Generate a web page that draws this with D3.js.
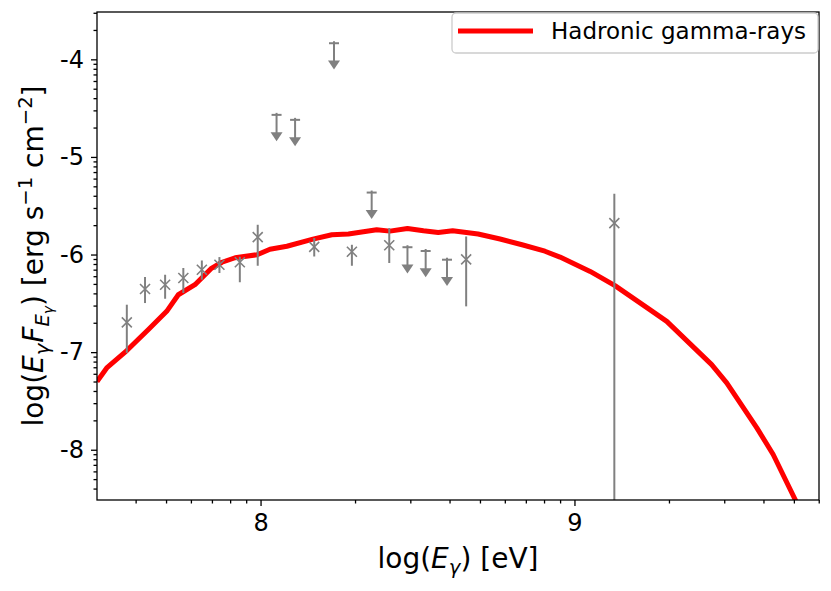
<!DOCTYPE html>
<html>
<head>
<meta charset="utf-8">
<script src="https://cdnjs.cloudflare.com/ajax/libs/d3/7.8.5/d3.min.js"></script>
<style>
  body { margin: 0; background: #fff; }
  svg { display: block; font-family: "DejaVu Sans", sans-serif; }
</style>
</head>
<body>
<svg id="sed" width="831" height="591"></svg>
<script>
// hadronic gamma-ray model (log E [eV], log E*F [erg s^-1 cm^-2])
const modelLogE = [7.479, 7.510, 7.574, 7.642, 7.701, 7.738, 7.791, 7.842, 7.877, 7.919,
  7.989, 8.030, 8.084, 8.167, 8.227, 8.280, 8.370, 8.412, 8.468, 8.519,
  8.566, 8.612, 8.693, 8.763, 8.833, 8.906, 8.954, 9.050, 9.129, 9.240,
  9.294, 9.437, 9.485, 9.581, 9.633, 9.703, 9.725];
const modelLogFlux = [-7.302, -7.162, -6.984, -6.770, -6.582, -6.412, -6.309, -6.145, -6.079, -6.033,
  -6.002, -5.946, -5.915, -5.842, -5.797, -5.790, -5.746, -5.760, -5.734, -5.757,
  -5.774, -5.757, -5.790, -5.841, -5.900, -5.966, -6.026, -6.173, -6.319, -6.565,
  -6.685, -7.128, -7.315, -7.776, -8.049, -8.510, -8.680];

// measured points with asymmetric errors
const pointLogE    = [7.574, 7.632, 7.696, 7.754, 7.813, 7.869, 7.934, 7.991, 8.171, 8.291, 8.410, 8.655, 9.127];
const pointLogFlux = [-6.695, -6.353, -6.309, -6.241, -6.156, -6.105, -6.079, -5.821, -5.922, -5.971, -5.905, -6.050, -5.678];
const pointHigh    = [-6.514, -6.230, -6.207, -6.138, -6.061, -6.026, -6.023, -5.695, -5.831, -5.900, -5.729, -5.815, -5.378];
const pointLow     = [-7.008, -6.497, -6.453, -6.394, -6.258, -6.189, -6.284, -6.115, -6.020, -6.115, -6.087, -6.531, -10.0];

// upper limits
const ulLogE    = [8.051, 8.110, 8.234, 8.354, 8.468, 8.526, 8.594];
const ulLogFlux = [-4.569, -4.620, -3.835, -5.365, -5.925, -5.964, -6.053];
const ulArrow = 0.27; // arrow length in dex

const xMajor = [8, 9];
const yMajor = [-8, -7, -6, -5, -4];
const legendLabel = "Hadronic gamma-rays";

const svg = d3.select("#sed");
const margin = { top: 12, right: 12, bottom: 91, left: 97 };
const W = 831, H = 591;
const iw = W - margin.left - margin.right;
const ih = H - margin.top - margin.bottom;

const x = d3.scaleLinear().domain([7.479, 9.779]).range([0, iw]);
const y = d3.scaleLinear().domain([-8.515, -3.515]).range([ih, 0]);

const g = svg.append("g").attr("transform", `translate(${margin.left},${margin.top})`);

g.append("clipPath").attr("id", "clip")
  .append("rect").attr("width", iw).attr("height", ih);

// minor log ticks (k*10^n)
function logMinor(domain) {
  const out = [];
  for (let n = Math.floor(domain[0]) - 1; n <= Math.ceil(domain[1]); n++) {
    for (let k = 2; k <= 9; k++) {
      const v = n + Math.log10(k);
      if (v >= domain[0] && v <= domain[1]) out.push(v);
    }
  }
  return out;
}

const gray = "#808080";
const plot = g.append("g").attr("clip-path", "url(#clip)");

// model curve
const line = d3.line().x((d, i) => x(modelLogE[i])).y(d => y(d));
plot.append("path")
  .datum(modelLogFlux)
  .attr("d", line)
  .attr("fill", "none")
  .attr("stroke", "#ff0000")
  .attr("stroke-width", 5)
  .attr("stroke-linejoin", "round");

// error bars
const pts = pointLogE.map((e, i) => ({ e, f: pointLogFlux[i], hi: pointHigh[i], lo: pointLow[i] }));
plot.selectAll(".err")
  .data(pts)
  .join("line")
  .attr("x1", d => x(d.e)).attr("x2", d => x(d.e))
  .attr("y1", d => y(d.hi)).attr("y2", d => y(d.lo))
  .attr("stroke", gray).attr("stroke-width", 2);

const ms = 5;
plot.selectAll(".mk").data(pts).join("path")
  .attr("d", d => {
    const cx = x(d.e), cy = y(d.f);
    return `M${cx - ms},${cy - ms}L${cx + ms},${cy + ms}M${cx - ms},${cy + ms}L${cx + ms},${cy - ms}`;
  })
  .attr("stroke", gray).attr("stroke-width", 1.6).attr("fill", "none");

// upper limits
const uls = ulLogE.map((e, i) => ({ e, f: ulLogFlux[i] }));
const ul = plot.selectAll(".ul").data(uls).join("g");
ul.append("line")
  .attr("x1", d => x(d.e) - 5).attr("x2", d => x(d.e) + 5)
  .attr("y1", d => y(d.f)).attr("y2", d => y(d.f))
  .attr("stroke", gray).attr("stroke-width", 2);
ul.append("line")
  .attr("x1", d => x(d.e)).attr("x2", d => x(d.e))
  .attr("y1", d => y(d.f) - 2).attr("y2", d => y(d.f - ulArrow) - 6)
  .attr("stroke", gray).attr("stroke-width", 2);
ul.append("path")
  .attr("d", d => {
    const cx = x(d.e), ty = y(d.f - ulArrow);
    return `M${cx - 6},${ty - 9}L${cx + 6},${ty - 9}L${cx},${ty}Z`;
  })
  .attr("fill", gray);

// axes
const fontTick = 24;
g.append("g").attr("transform", `translate(0,${ih})`)
  .call(d3.axisBottom(x).tickValues(xMajor).tickSize(6).tickPadding(8).tickFormat(d3.format("d")));
g.append("g").attr("transform", `translate(0,${ih})`)
  .call(d3.axisBottom(x).tickValues(logMinor(x.domain())).tickSize(3.5).tickFormat(""));
g.append("g")
  .call(d3.axisLeft(y).tickValues(yMajor).tickSize(6).tickPadding(7).tickFormat(d => String(d)));
g.append("g")
  .call(d3.axisLeft(y).tickValues(logMinor(y.domain())).tickSize(3.5).tickFormat(""));

g.selectAll(".domain").remove();
g.selectAll(".tick line").attr("stroke", "#000").attr("stroke-width", 1.3);
g.selectAll(".tick text").attr("font-size", fontTick).attr("fill", "#000")
  .attr("font-family", "DejaVu Sans");

// frame
g.append("rect").attr("width", iw).attr("height", ih)
  .attr("fill", "none").attr("stroke", "#000").attr("stroke-width", 1.3);

// axis labels
const xl = svg.append("text")
  .attr("x", margin.left + iw / 2).attr("y", 568)
  .attr("text-anchor", "middle").attr("font-size", 28);
xl.append("tspan").text("log(");
xl.append("tspan").attr("font-style", "italic").text("E");
xl.append("tspan").attr("font-style", "italic").attr("font-size", 19.6).attr("dy", 6).text("γ");
xl.append("tspan").attr("dy", -6).text(") [eV]");

const yl = svg.append("text")
  .attr("transform", `translate(43,${margin.top + ih / 2}) rotate(-90)`)
  .attr("text-anchor", "middle").attr("font-size", 28);
yl.append("tspan").text("log(");
yl.append("tspan").attr("font-style", "italic").text("E");
yl.append("tspan").attr("font-style", "italic").attr("font-size", 19.6).attr("dy", 6).text("γ");
yl.append("tspan").attr("font-style", "italic").attr("dy", -6).attr("dx", 1).text("F");
yl.append("tspan").attr("font-style", "italic").attr("font-size", 19.6).attr("dy", 6).text("E");
yl.append("tspan").attr("font-style", "italic").attr("font-size", 13.7).attr("dy", 4).text("γ");
yl.append("tspan").attr("dy", -10).text(") [erg s");
yl.append("tspan").attr("font-size", 19.6).attr("dy", -11).text("−1");
yl.append("tspan").attr("dy", 11).text(" cm");
yl.append("tspan").attr("font-size", 19.6).attr("dy", -11).text("−2");
yl.append("tspan").attr("dy", 11).text("]");

// legend
const lg = svg.append("g").attr("transform", "translate(452,13)");
lg.append("rect").attr("width", 366).attr("height", 40).attr("rx", 4)
  .attr("fill", "#fff").attr("fill-opacity", 0.8)
  .attr("stroke", "#cccccc").attr("stroke-width", 1.3);
lg.append("line").attr("x1", 6).attr("x2", 81).attr("y1", 18).attr("y2", 18)
  .attr("stroke", "#ff0000").attr("stroke-width", 5);
lg.append("text").attr("x", 99).attr("y", 26).attr("font-size", 23).text(legendLabel);
</script>
</body>
</html>
